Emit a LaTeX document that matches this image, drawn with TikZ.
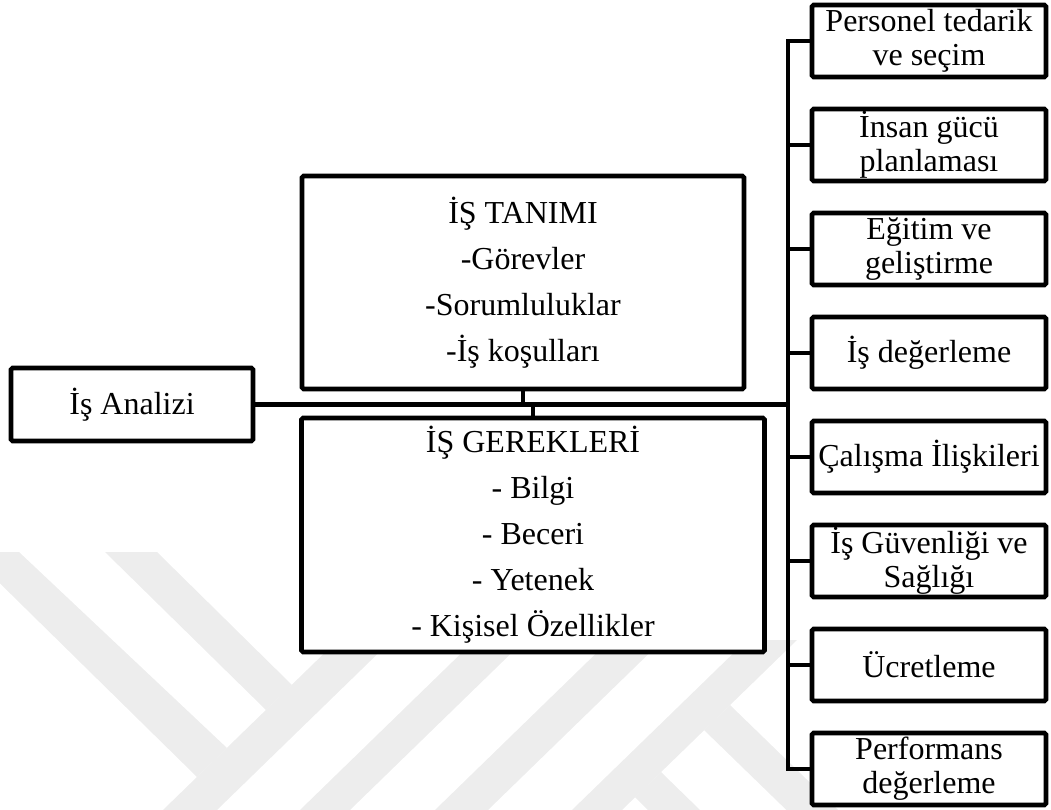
\documentclass[tikz,border=0pt]{standalone}
\usepackage{fontspec}
\setmainfont{Liberation Serif}
\definecolor{wm}{RGB}{237,237,237}
\tikzset{
  box/.style={draw=black, line width=3.5pt, fill=white, inner sep=0pt, align=center,
    rounded corners=1.2pt, font=\fontsize{24}{34.5}\selectfont},
  rbox/.style={box, minimum width=234*0.75pt, minimum height=72*0.75pt,
    font=\fontsize{24}{25.5}\selectfont},
  link/.style={line width=3.5pt, line cap=rect},
  mark wm/.style={fill=wm},
}
\begin{document}
\begin{tikzpicture}[x=0.75pt,y=-0.75pt]
\useasboundingbox (0,0) rectangle (1051,810);
% faint watermark
\begin{scope}
\clip (0,0) rectangle (1051,810);
\fill[mark wm] (-32,552) -- (19,552) -- (227,748) -- (197,777) -- cycle;
\fill[mark wm] (105,552) -- (157,552) -- (292,685) -- (266,710) -- cycle;
\fill[mark wm] (163,810) -- (217,810) -- (433,600) -- (379,600) -- cycle;
\fill[mark wm] (300,810) -- (350,810) -- (566,600) -- (516,600) -- cycle;
\fill[mark wm] (435,810) -- (488,810) -- (704,600) -- (651,600) -- cycle;
\fill[mark wm] (572,810) -- (622,810) -- (797,640) -- (747,640) -- cycle;
\fill[mark wm] (730,705) -- (900,870) -- (874,895) -- (704,730) -- cycle;
\fill[mark wm] (661,772) -- (700,810) -- (648,810) -- (635,797) -- cycle;
\end{scope}

\coordinate (sx) at (788,0);

\node[box, minimum width=242*0.75pt, minimum height=73*0.75pt] (ana) at (132,404.5) {İş Analizi};
\node[box, minimum width=442*0.75pt, minimum height=213*0.75pt] (tan) at (523,282.5)
  {İŞ TANIMI\\-Görevler\\-Sorumluluklar\\-İş koşulları};
\node[box, minimum width=463*0.75pt, minimum height=234*0.75pt] (ger) at (533,535)
  {İŞ GEREKLERİ\\- Bilgi\\- Beceri\\- Yetenek\\- Kişisel Özellikler};

\node[rbox] (r1) at (929,41)  {Personel tedarik\\ve seçim};
\node[rbox] (r2) at (929,145) {İnsan gücü\\planlaması};
\node[rbox] (r3) at (929,249) {Eğitim ve\\geliştirme};
\node[rbox] (r4) at (929,353) {İş değerleme};
\node[rbox] (r5) at (929,457) {Çalışma İlişkileri};
\node[rbox] (r6) at (929,561) {İş Güvenliği ve\\Sağlığı};
\node[rbox] (r7) at (929,665) {Ücretleme};
\node[rbox] (r8) at (929,769) {Performans\\değerleme};

% connectors
\draw[link] (ana.east) -- (ana.east -| sx);
\draw[link] (tan.south) -- (tan.south |- ana.east);
\draw[link] (ger.north) -- (ger.north |- ana.east);
\draw[link] (r1.west -| sx) -- (r8.west -| sx);
\foreach \i in {1,...,8} {
  \draw[link] (r\i.west) -- (r\i.west -| sx);
}
\end{tikzpicture}
\end{document}
